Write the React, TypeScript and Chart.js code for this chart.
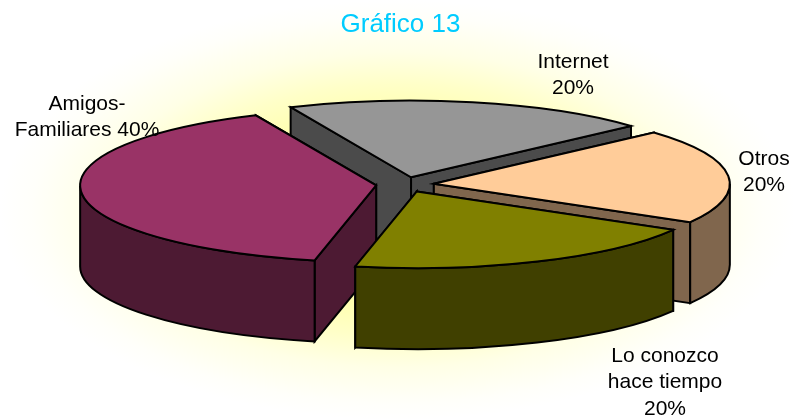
import React, { useEffect, useRef } from "react";
import { Chart, registerables } from "chart.js";

Chart.register(...registerables);

const chartTitle = "Gráfico 13";
const categories = ["Internet", "Otros", "Lo conozco hace tiempo", "Amigos-Familiares"];
const values = [20, 20, 20, 40];
const topColors = ["#969696", "#FFCC99", "#808000", "#993366"];
const wallColors = ["#4B4B4B", "#80664D", "#404000", "#4D1A33"];
const labelLines = [["Internet"], ["Otros"], ["Lo conozco", "hace tiempo"], ["Amigos-"]];

// Layout of the 3-D projection (style only, the slice angles come from the chart)
const W = 795;
const H = 420;
const RX = 296;
const RY = 76.7;
const DEPTH = 81;
const SHIFT_X = 4.5;
const PAINT_ORDER = [0, 3, 1, 2];
const LABEL_POS = [
  { x: 573, y: 62 },
  { x: 764, y: 159 },
  { x: 665, y: 356 },
  { x: 87, y: 104 },
];
const LINE_H = 26.7;

function labelTextLines(i: number): string[] {
  const total = values.reduce((a, b) => a + b, 0);
  const pct = `${Math.round((values[i] / total) * 100)}%`;
  const lines = labelLines[i];
  if (i === 3) return [lines[0], `Familiares ${pct}`];
  return [...lines, pct];
}

const pie3d = {
  id: "pie3d",
  beforeDraw(chart: any) {
    const { ctx } = chart;
    ctx.save();
    ctx.translate(W / 2, H / 2);
    ctx.scale(W / 2, H / 2);
    const g = ctx.createRadialGradient(0, 0, 0, 0, 0, 1);
    g.addColorStop(0, "#FFFF99");
    g.addColorStop(0.45, "#FFFFB0");
    g.addColorStop(0.6, "#FFFFC8");
    g.addColorStop(0.75, "#FFFFE6");
    g.addColorStop(0.92, "#FFFFFA");
    g.addColorStop(1, "#FFFFFF");
    ctx.fillStyle = "#FFFFFF";
    ctx.fillRect(-1, -1, 2, 2);
    ctx.fillStyle = g;
    ctx.fillRect(-1, -1, 2, 2);
    ctx.restore();
  },
  beforeDatasetsDraw(chart: any) {
    const { ctx } = chart;
    const arcs = chart.getDatasetMeta(0).data;
    ctx.save();
    ctx.lineWidth = 2;
    ctx.lineJoin = "miter";
    ctx.strokeStyle = "#000000";

    PAINT_ORDER.forEach((i) => {
      const arc = arcs[i];
      const { x, y, startAngle, endAngle, outerRadius } = arc.getProps(
        ["x", "y", "startAngle", "endAngle", "outerRadius"],
        true
      );
      const kx = RX / outerRadius;
      const ky = RY / outerRadius;
      const mid = (startAngle + endAngle) / 2;
      const off = (arc.options.offset || 0) / 4;
      const cx = x + SHIFT_X + Math.cos(mid) * off * kx;
      const cy = y + Math.sin(mid) * off * ky;
      const rim = (a: number) => [cx + Math.cos(a) * RX, cy + Math.sin(a) * RY];

      const cutWall = (a: number) => {
        const [px, py] = rim(a);
        ctx.beginPath();
        ctx.moveTo(cx, cy);
        ctx.lineTo(px, py);
        ctx.lineTo(px, py + DEPTH);
        ctx.lineTo(cx, cy + DEPTH);
        ctx.closePath();
        ctx.fillStyle = wallColors[i];
        ctx.fill();
        ctx.stroke();
      };
      // the wall facing away first, the visible one afterwards
      const startVisible = Math.cos(startAngle) < 0;
      if (startVisible) {
        cutWall(endAngle);
        cutWall(startAngle);
      } else {
        cutWall(startAngle);
        cutWall(endAngle);
      }

      const a1 = Math.max(startAngle, 0);
      const a2 = Math.min(endAngle, Math.PI);
      if (a2 > a1) {
        ctx.beginPath();
        ctx.ellipse(cx, cy, RX, RY, 0, a1, a2, false);
        ctx.ellipse(cx, cy + DEPTH, RX, RY, 0, a2, a1, true);
        ctx.closePath();
        ctx.fillStyle = wallColors[i];
        ctx.fill();
        ctx.stroke();
      }

      ctx.beginPath();
      ctx.moveTo(cx, cy);
      ctx.ellipse(cx, cy, RX, RY, 0, startAngle, endAngle, false);
      ctx.closePath();
      ctx.fillStyle = arc.options.backgroundColor;
      ctx.fill();
      ctx.stroke();
    });

    ctx.fillStyle = "#000000";
    ctx.font = '21px "Liberation Sans", Arial, sans-serif';
    ctx.textAlign = "center";
    ctx.textBaseline = "middle";
    values.forEach((_, i) => {
      labelTextLines(i).forEach((line, n) => {
        ctx.fillText(line, LABEL_POS[i].x, LABEL_POS[i].y + n * LINE_H);
      });
    });
    ctx.restore();
    return false;
  },
};

export default function App() {
  const ref = useRef<HTMLCanvasElement>(null);
  useEffect(() => {
    const chart = new Chart(ref.current as HTMLCanvasElement, {
      type: "pie",
      data: {
        labels: categories,
        datasets: [
          {
            data: values,
            backgroundColor: topColors,
            borderColor: "#000000",
            borderWidth: 2,
            offset: 47,
          },
        ],
      },
      options: {
        responsive: false,
        animation: false,
        rotation: -24,
        layout: { padding: { left: 6, right: 0, top: 0, bottom: 91 } },
        plugins: {
          legend: { display: false },
          tooltip: { enabled: false },
          title: {
            display: true,
            text: chartTitle,
            color: "#00CCFF",
            font: { family: '"Liberation Sans", Arial, sans-serif', size: 26, weight: "normal" },
            padding: { top: 9, bottom: 0 },
          },
        },
      },
      plugins: [pie3d],
    } as any);
    return () => chart.destroy();
  }, []);
  return (
    <div style={{ position: "fixed", left: 0, top: 0, width: W, height: H }}>
      <canvas ref={ref} width={W} height={H} style={{ display: "block" }} />
    </div>
  );
}
